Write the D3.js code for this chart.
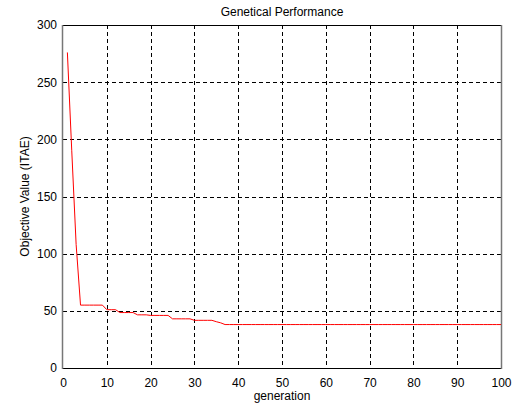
<!DOCTYPE html>
<html lang="en">
<head>
    <meta charset="UTF-8">
    <title>Genetical Performance</title>
    <script src="https://d3js.org/d3.v7.min.js"></script>
    <style>
        body { margin: 0; background: #fff; }
        svg text { font-family: Arial, "Liberation Sans", sans-serif; font-size: 12px; fill: #000; }
    </style>
</head>
<body>
<svg id="canvas" width="524" height="404"></svg>
<script>
    // values, one per generation (1..100)
    let generations = d3.range(1, 101);
    let best = [
        276, 190, 108, 55, 55, 55, 55, 55, 55, 51,
        51, 51, 48.5, 48.5, 48.5, 48.5, 46.5, 46.5, 46.5, 46,
        46, 46, 46, 46, 43, 43, 43, 43, 43, 41.7,
        41.7, 41.7, 41.7, 41.7, 40.5, 39.5
    ];
    while (best.length < generations.length) best.push(38);

    let xTicks = [0, 10, 20, 30, 40, 50, 60, 70, 80, 90, 100];
    let yTicks = [0, 50, 100, 150, 200, 250, 300];

    let margin = {left: 63, right: 23, top: 25, bottom: 36};
    let width = 524 - margin.left - margin.right;
    let height = 404 - margin.top - margin.bottom;

    let x = d3.scaleLinear().domain([0, 100]).range([0, width]);
    let y = d3.scaleLinear().domain([0, 300]).range([height, 0]);

    let svg = d3.select('#canvas');
    let g = svg.append('g').attr('transform', `translate(${margin.left},${margin.top})`);

    // grid
    g.selectAll('.vgrid').data(xTicks.slice(1, -1)).enter().append('line')
        .attr('x1', d => Math.round(x(d)) + 0.5).attr('x2', d => Math.round(x(d)) + 0.5)
        .attr('y1', 0).attr('y2', height)
        .attr('stroke', '#000').attr('stroke-dasharray', '4,3');
    g.selectAll('.hgrid').data(yTicks.slice(1)).enter().append('line')
        .attr('y1', d => Math.round(y(d)) + 0.5).attr('y2', d => Math.round(y(d)) + 0.5)
        .attr('x1', 0).attr('x2', width)
        .attr('stroke', '#000').attr('stroke-dasharray', '4,3');

    // axes
    let xAxis = d3.axisBottom(x).tickValues(xTicks).tickSize(0).tickPadding(10);
    let yAxis = d3.axisLeft(y).tickValues(yTicks).tickSize(0).tickPadding(6);
    g.append('g').attr('transform', `translate(0,${height})`).call(xAxis)
        .call(a => a.select('.domain').remove());
    g.append('g').call(yAxis).call(a => a.select('.domain').remove());
    svg.selectAll('.tick text').style('font-size', '12px');

    // box
    g.append('line').attr('x1', 0).attr('x2', width).attr('y1', height + 0.5).attr('y2', height + 0.5).attr('stroke', '#000');
    g.append('line').attr('x1', 0).attr('x2', width).attr('y1', 0.5).attr('y2', 0.5).attr('stroke', '#000');
    g.append('line').attr('x1', -0.5).attr('x2', -0.5).attr('y1', 0).attr('y2', height + 1).attr('stroke', '#777').attr('stroke-width', 1.5);
    g.append('line').attr('x1', width + 0.5).attr('x2', width + 0.5).attr('y1', 0).attr('y2', height + 1).attr('stroke', '#777').attr('stroke-width', 1.5);

    // performance line
    let line = d3.line().x((d, i) => x(generations[i])).y(d => y(d));
    g.append('path').datum(best)
        .attr('d', line)
        .attr('fill', 'none')
        .attr('stroke', '#ff0000')
        .attr('stroke-width', 1);

    // labels
    svg.append('text').attr('x', margin.left + width / 2).attr('y', 16)
        .attr('text-anchor', 'middle').text('Genetical Performance');
    svg.append('text').attr('x', margin.left + width / 2).attr('y', 400)
        .attr('text-anchor', 'middle').text('generation');
    svg.append('text').attr('transform', `translate(29,${margin.top + height / 2}) rotate(-90)`)
        .attr('text-anchor', 'middle').text('Objective Value (ITAE)');
</script>
</body>
</html>
